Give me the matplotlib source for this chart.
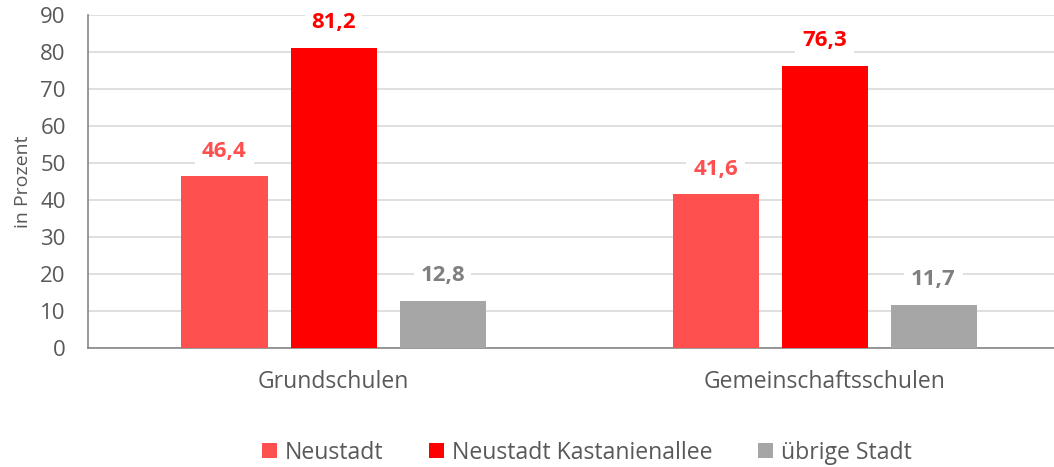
import matplotlib.pyplot as plt
import numpy as np

plt.rcParams['font.family'] = ['Open Sans', 'DejaVu Sans']

categories = ['Grundschulen', 'Gemeinschaftsschulen']
series = ['Neustadt', 'Neustadt Kastanienallee', 'übrige Stadt']
values = [[46.4, 41.6], [81.2, 76.3], [12.8, 11.7]]
colors = ['#FF5050', '#FF0000', '#A6A6A6']
label_colors = ['#FF5050', '#FF0000', '#7F7F7F']

fig = plt.figure(figsize=(10.54, 4.67), dpi=100)
# plot area runs a bit past the right edge of the picture (cropped chart)
ax = fig.add_axes([88 / 1054, 0.2548, 982 / 1054, 0.7132])

x = np.arange(len(categories))
width = 86 / 491
step = 109 / 491
for i, (name, vals) in enumerate(zip(series, values)):
    pos = x + (i - 1) * step
    ax.bar(pos, vals, width, color=colors[i], label=name, zorder=3)
    for px, v in zip(pos, vals):
        ax.annotate(f'{v:.1f}'.replace('.', ','), (px, v), xytext=(0, 18),
                    textcoords='offset points', ha='center', va='center',
                    fontsize=16, fontweight='bold', color=label_colors[i],
                    bbox=dict(boxstyle='square,pad=0.3', fc='white', ec='none'),
                    zorder=4)

ax.set_xlim(-0.5, 1.5)
ax.set_ylim(0, 90)
ax.set_yticks(range(0, 91, 10))
ax.set_xticks(x)
ax.set_xticklabels(categories)
ax.yaxis.grid(True, color='#D9D9D9', linewidth=1.2, zorder=0)
ax.tick_params(axis='both', length=0, labelsize=16.5, colors='#595959')
ax.tick_params(axis='y', labelsize=16)
ax.tick_params(axis='x', pad=16)
ax.tick_params(axis='y', pad=16)
for s in ['top', 'right']:
    ax.spines[s].set_visible(False)
for s in ['left', 'bottom']:
    ax.spines[s].set_color('#868686')
    ax.spines[s].set_linewidth(1.2)
ax.set_ylabel('in Prozent', fontsize=14, color='#595959', labelpad=6)

fig.legend(loc='center', bbox_to_anchor=(587 / 1054, 1 - 453 / 467), ncol=3, frameon=False,
           fontsize=16.6, labelcolor='#595959', handlelength=0.62, handleheight=0.62,
           handletextpad=0.35, columnspacing=2.0)

fig.savefig('out.png', dpi=100)
